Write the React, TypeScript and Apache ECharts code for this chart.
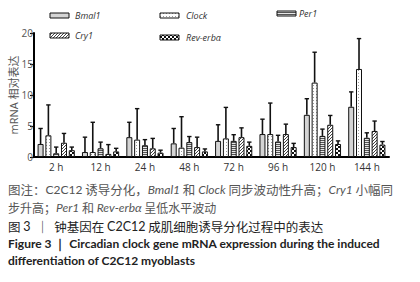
import React, { useEffect, useRef } from "react";
import * as echarts from "echarts";

const categories = ["2 h", "12 h", "24 h", "48 h", "72 h", "96 h", "120 h", "144 h"];
const genes = ["Bmal1", "Clock", "Per1", "Cry1", "Rev-erbα"];

const bmal1 = [2.1, 0.8, 3.2, 2.2, 2.6, 3.7, 6.8, 8.1];
const bmal1Sd = [2.5, 2.4, 2.4, 2.4, 2.6, 2.4, 2.6, 2.4];
const clock = [3.5, 0.8, 2.8, 1.5, 3.0, 3.7, 12.0, 14.2];
const clockSd = [4.9, 4.8, 5.0, 5.0, 5.0, 5.0, 4.9, 4.9];
const per1 = [0.6, 1.4, 1.9, 2.4, 2.6, 2.5, 3.4, 3.1];
const per1Sd = [1.0, 1.0, 0.9, 0.9, 1.0, 1.0, 1.1, 0.8];
const cry1 = [2.3, 0.5, 1.4, 1.6, 3.2, 3.7, 5.2, 4.2];
const cry1Sd = [1.5, 1.5, 1.6, 1.6, 1.5, 1.6, 1.5, 1.6];
const revErba = [1.1, 0.9, 0.7, 0.9, 1.8, 1.6, 2.1, 2.0];
const revErbaSd = [0.5, 0.5, 0.4, 0.4, 0.6, 0.6, 0.5, 0.5];

const seriesValues = [bmal1, clock, per1, cry1, revErba];
const seriesSd = [bmal1Sd, clockSd, per1Sd, cry1Sd, revErbaSd];

function makePattern(kind: string): any {
  if (kind === "grey") return "#d4d4d4";
  const c = document.createElement("canvas");
  let w = 4, h = 4;
  if (kind === "dots") { w = 3; h = 3; }
  if (kind === "hstripe") { w = 2; h = 2; }
  if (kind === "diag") { w = 3; h = 3; }
  c.width = w; c.height = h;
  const ctx = c.getContext("2d")!;
  ctx.fillStyle = "#ffffff";
  ctx.fillRect(0, 0, w, h);
  if (kind === "dots") {
    ctx.fillStyle = "#9a9a9a";
    ctx.fillRect(1, 1, 1, 1);
  } else if (kind === "hstripe") {
    ctx.fillStyle = "#555555";
    ctx.fillRect(0, 0, w, 1);
    ctx.fillStyle = "#e6e6e6";
    ctx.fillRect(0, 1, w, 1);
  } else if (kind === "diag") {
    ctx.fillStyle = "#444444";
    for (let y = 0; y < h; y++) for (let x = 0; x < w; x++) if ((x + y) % 3 === 0) ctx.fillRect(x, y, 1, 1);
  } else if (kind === "checker") {
    ctx.fillStyle = "#111111";
    ctx.fillRect(0, 0, 2, 2);
    ctx.fillRect(2, 2, 2, 2);
  }
  return { image: c, repeat: "repeat", imageWidth: w, imageHeight: h };
}

export default function App() {
  const ref = useRef<HTMLDivElement>(null);
  useEffect(() => {
    if (!ref.current) return;
    const chart = echarts.init(ref.current, null, { renderer: "svg" });
    const fills = [makePattern("grey"), makePattern("dots"), makePattern("hstripe"), makePattern("diag"), makePattern("checker")];
    const barWidth = 6;
    const pitch = 7.8;

    const barSeries = genes.map((g, k) => ({
      type: "bar",
      name: g,
      data: seriesValues[k],
      barWidth,
      barGap: "30%",
      itemStyle: { color: fills[k], borderColor: "#111", borderWidth: 1 },
      z: 2,
    }));

    const errData: number[][] = [];
    seriesValues.forEach((vals, k) => {
      vals.forEach((v, i) => errData.push([i, v, seriesSd[k][i], k]));
    });

    const errSeries = {
      type: "custom",
      data: errData,
      encode: { x: 0, y: 1 },
      z: 3,
      renderItem: (params: any, api: any) => {
        const cat = api.value(0);
        const v = api.value(1);
        const sd = api.value(2);
        const k = api.value(3);
        const p0 = api.coord([cat, v]);
        const p1 = api.coord([cat, v + sd]);
        const x = p0[0] + (k - 2) * pitch;
        return {
          type: "group",
          children: [
            { type: "line", shape: { x1: x, y1: p0[1], x2: x, y2: p1[1] }, style: { stroke: "#111", lineWidth: 1.6 } },
            { type: "line", shape: { x1: x - 2.2, y1: p1[1], x2: x + 2.2, y2: p1[1] }, style: { stroke: "#111", lineWidth: 1.4 } },
          ],
        };
      },
    };

    const legendPos = [
      { x: 50, y: 13, tx: 75 },
      { x: 160, y: 13, tx: 186 },
      { x: 277, y: 11, tx: 299 },
      { x: 50, y: 33, tx: 75 },
      { x: 160, y: 35, tx: 186 },
    ];
    const legendEls: any[] = [];
    genes.forEach((g, k) => {
      const p = legendPos[k];
      legendEls.push({
        type: "rect",
        shape: { x: p.x, y: p.y, width: 19, height: 5 },
        style: { fill: fills[k], stroke: "#111", lineWidth: 1 },
      });
      legendEls.push({
        type: "text",
        x: p.tx,
        y: p.y + 2.5,
        style: {
          text: g,
          font: "italic 9px 'Open Sans'",
          fill: "#333",
          verticalAlign: "middle",
          align: "left",
        },
      });
    });

    const cjk = "'Noto Sans CJK SC'";
    const rich = {
      l: { fontFamily: "Lato", fontSize: 12, fill: "#555" },
      i: { fontFamily: "Lato", fontStyle: "italic", fontSize: 12, fill: "#555" },
      L: { fontFamily: "Lato", fontSize: 12.5, fill: "#222" },
    };
    const captionEls: any[] = [
      {
        type: "text", x: 8, y: 189,
        style: {
          text: "图注：{l|C2C12} 诱导分化，{i|Bmal1} 和 {i|Clock} 同步波动性升高；{i|Cry1} 小幅同",
          fontFamily: cjk, fontSize: 12.5, fill: "#555", verticalAlign: "middle", rich,
        },
      },
      {
        type: "text", x: 8, y: 207,
        style: {
          text: "步升高；{i|Per1} 和 {i|Rev-erbα} 呈低水平波动",
          fontFamily: cjk, fontSize: 12, fill: "#555", verticalAlign: "middle", rich,
        },
      },
      {
        type: "text", x: 8, y: 226,
        style: {
          text: "图 {L|3}  ｜  钟基因在 {L|C2C12} 成肌细胞诱导分化过程中的表达",
          fontFamily: cjk, fontSize: 12.5, fill: "#222", verticalAlign: "middle", rich,
        },
      },
      {
        type: "text", x: 8, y: 243.5,
        style: {
          text: "Figure 3 ｜ Circadian clock gene mRNA expression during the induced",
          font: "bold 12px Lato", fill: "#222", verticalAlign: "middle",
        },
      },
      {
        type: "text", x: 8, y: 260,
        style: {
          text: "differentiation of C2C12 myoblasts",
          font: "bold 12px Lato", fill: "#222", verticalAlign: "middle",
        },
      },
    ];

    chart.setOption({
      animation: false,
      grid: { left: 34, top: 33, width: 355, bottom: 125, containLabel: false, outerBoundsMode: "none" },
      xAxis: {
        type: "category",
        data: categories,
        axisLine: { lineStyle: { color: "#000", width: 2 } },
        axisTick: { alignWithLabel: true, length: 3, lineStyle: { color: "#000", width: 1.5 } },
        axisLabel: { color: "#333", fontSize: 10, fontFamily: "'Open Sans'", margin: 5 },
      },
      yAxis: {
        type: "value",
        min: 0,
        max: 20,
        interval: 5,
        name: "mRNA 相对表达",
        nameLocation: "middle",
        nameRotate: 90,
        nameGap: 15,
        nameMoveOverlap: false,
        nameTextStyle: { color: "#555", fontSize: 11, fontFamily: "'Open Sans', 'Noto Sans CJK SC'" },
        axisLine: { show: true, lineStyle: { color: "#000", width: 2 } },
        axisTick: { show: true, length: 4, lineStyle: { color: "#000", width: 1.2 } },
        axisLabel: { color: "#555", fontSize: 10, fontFamily: "'Open Sans'", margin: 1 },
        splitLine: { show: false },
      },
      series: [...barSeries, errSeries],
      graphic: [...legendEls, ...captionEls],
    });
    return () => chart.dispose();
  }, []);
  return <div ref={ref} style={{ position: "absolute", left: 0, top: 0, width: 420, height: 282, background: "#fff" }} />;
}
